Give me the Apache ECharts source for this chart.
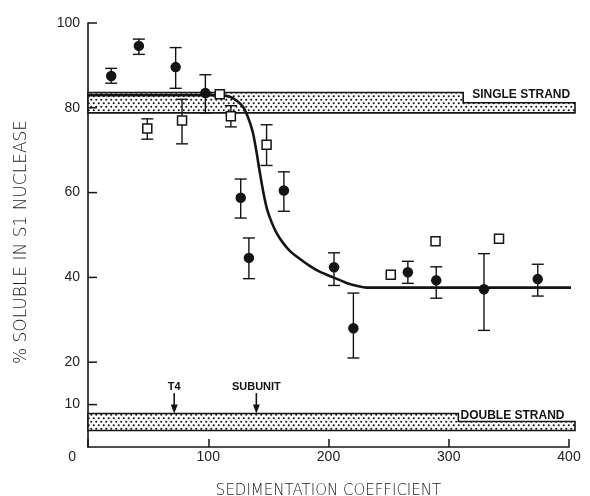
<!DOCTYPE html>
<html><head><meta charset="utf-8">
<script src="https://cdn.jsdelivr.net/npm/echarts@6/dist/echarts.min.js"></script>
<style>html,body{margin:0;padding:0;background:#fff}#c{width:590px;height:496px}</style>
</head><body><div id="c"></div>
<script>
// ---- data ----
const filledPoints = [[19.3,87.5],[42.3,94.6],[72.9,89.6],[97.6,83.5],[127,58.8],[133.8,44.6],[162.9,60.5],[204.6,42.4],[220.7,28.0],[266,41.2],[289.6,39.3],[329.3,37.2],[374,39.6]];
const filledErr = [[85.8,89.3],[92.6,96.2],[84.6,94.2],[78.8,87.8],[54.0,63.2],[39.7,49.3],[55.6,64.9],[38.1,45.8],[21.0,36.3],[38.6,43.8],[35.1,42.5],[27.5,45.6],[35.6,43.1]];
const squarePoints = [[49.3,75.1],[78.2,77.0],[109.6,83.2],[118.8,78.0],[148.5,71.3],[251.8,40.6],[289,48.5],[341.8,49.1]];
const squareErr = [[72.6,77.4],[71.5,82.0],null,[75.5,80.5],[66.4,76.0],null,null,null];
const fitCurve = [[0,83],[110,83],[118,82.6],[124,81.6],[129,80.2],[133,77.8],[137,74.3],[140,69.8],[143,64.6],[146,59.8],[149,56],[153,52.8],[157,50.4],[162,48.2],[168,46.2],[176,44.4],[185,42.6],[193,41.3],[204,40.0],[215,38.7],[225,37.9],[232,37.6],[300,37.6],[404,37.6]];
const singleStrandBand = [[0,83.6],[312,83.6],[312,81.2],[405,81.2],[405,78.8],[0,78.8]];
const doubleStrandBand = [[0,7.9],[308,7.9],[308,6.0],[405,6.0],[405,3.9],[0,3.9]];
const yTickValues = [0,10,20,40,60,80,100];
const bandLabels = [['SINGLE STRAND',319.5,83.2],['DOUBLE STRAND',309.8,7.5]];
const arrowMarks = [['T4',71.7],['SUBUNIT',140]];
const arrowSpan = [12.7,7.9];
const arrowLabelY = 14.2;

const INK = '#141414';
function makePattern(){
  const c = document.createElement('canvas'); c.width = 5; c.height = 7;
  const g = c.getContext('2d');
  g.fillStyle = '#fff'; g.fillRect(0,0,5,7);
  g.fillStyle = INK;
  g.beginPath(); g.arc(1.25,1.75,1.05,0,Math.PI*2); g.fill();
  g.beginPath(); g.arc(3.75,5.25,1.05,0,Math.PI*2); g.fill();
  return c;
}
const pattern = makePattern();

function bandSeries(pts){
  return {type:'custom', coordinateSystem:'cartesian2d', clip:false, z:1, silent:true,
    data:[[0,0]],
    renderItem(params, api){
      return {type:'polygon', shape:{points: pts.map(p=>api.coord(p))},
        style:{fill:{image:pattern, repeat:'repeat'}, stroke:INK, lineWidth:1.6}};
    }};
}
function errSeries(points, errs, z){
  const data = [];
  points.forEach((p,i)=>{ if(errs[i]) data.push([p[0], errs[i][0], errs[i][1]]); });
  return {type:'custom', coordinateSystem:'cartesian2d', clip:false, z:z, silent:true,
    data:data, encode:{x:0, y:[1,2]},
    renderItem(params, api){
      const lo = api.coord([api.value(0), api.value(1)]);
      const hi = api.coord([api.value(0), api.value(2)]);
      const w = 6;
      const st = {stroke:INK, lineWidth:1.4};
      return {type:'group', children:[
        {type:'line', shape:{x1:lo[0],y1:lo[1],x2:hi[0],y2:hi[1]}, style:st},
        {type:'line', shape:{x1:lo[0]-w,y1:lo[1],x2:lo[0]+w,y2:lo[1]}, style:st},
        {type:'line', shape:{x1:hi[0]-w,y1:hi[1],x2:hi[0]+w,y2:hi[1]}, style:st}
      ]};
    }};
}
const labelFont = '"Liberation Sans", Arial, sans-serif';
const nameFont = '"DejaVu Sans", sans-serif';

const option = {
  backgroundColor:'#fff',
  animation:false,
  grid:{left:88, right:21, top:23, bottom:49, containLabel:false, outerBoundsMode:'none'},
  xAxis:{type:'value', min:0, max:400, interval:100,
    name:'SEDIMENTATION COEFFICIENT', nameLocation:'middle', nameGap:37,
    nameTextStyle:{fontSize:15, fontWeight:300, color:'#222', fontFamily:nameFont},
    axisLine:{show:true, lineStyle:{color:INK, width:1.6}},
    axisTick:{show:true, inside:true, length:8, lineStyle:{color:INK, width:1.5}},
    axisLabel:{margin:3, fontSize:14, color:'#222', fontFamily:labelFont, formatter:v=> v===0?'':String(v)},
    splitLine:{show:false}},
  yAxis:{type:'value', min:0, max:100, interval:10,
    name:'% SOLUBLE IN S1 NUCLEASE', nameLocation:'middle', nameGap:58, nameRotate:90,
    nameTextStyle:{fontSize:17, fontWeight:300, color:'#222', fontFamily:nameFont, padding:[0,14,0,0]},
    axisLine:{show:true, lineStyle:{color:INK, width:1.6}},
    axisTick:{show:false},
    axisLabel:{margin:8, fontSize:14, color:'#222', fontFamily:labelFont,
      formatter:v=> yTickValues.indexOf(v)<0 ? '' : (v===0 ? '{z|0}' : String(v)),
      rich:{z:{padding:[20,4,0,0], fontSize:14, color:'#222', fontFamily:labelFont}}},
    splitLine:{show:false}},
  series:[
    bandSeries(singleStrandBand),
    bandSeries(doubleStrandBand),
    {type:'custom', coordinateSystem:'cartesian2d', clip:false, z:3, silent:true,
      data: yTickValues.filter(v=>v>0).map(v=>[0,v]),
      renderItem(params, api){
        const p = api.coord([0, api.value(1)]);
        return {type:'line', shape:{x1:p[0], y1:p[1], x2:p[0]+9, y2:p[1]}, style:{stroke:INK, lineWidth:1.5}};
      }},
    {type:'custom', coordinateSystem:'cartesian2d', clip:false, z:4, silent:true,
      data: bandLabels.map(b=>[b[1], b[2]]),
      renderItem(params, api){
        const p = api.coord([api.value(0), api.value(1)]);
        return {type:'text', x:p[0], y:p[1], style:{text: bandLabels[params.dataIndex][0], fill:INK,
          font:'bold 12px '+labelFont, align:'left', verticalAlign:'middle'}};
      }},
    {type:'custom', coordinateSystem:'cartesian2d', clip:false, z:4, silent:true,
      data: arrowMarks.map(a=>[a[1], arrowSpan[0]]),
      renderItem(params, api){
        const x = api.value(0);
        const top = api.coord([x, arrowSpan[0]]);
        const tip = api.coord([x, arrowSpan[1]]);
        const lab = api.coord([x, arrowLabelY]);
        return {type:'group', children:[
          {type:'line', shape:{x1:top[0],y1:top[1],x2:tip[0],y2:tip[1]-4}, style:{stroke:INK, lineWidth:1.6}},
          {type:'polygon', shape:{points:[[tip[0]-3.5,tip[1]-9],[tip[0]+3.5,tip[1]-9],[tip[0],tip[1]]]}, style:{fill:INK}},
          {type:'text', x:lab[0], y:lab[1], style:{text: arrowMarks[params.dataIndex][0], fill:INK,
            font:'bold 11px '+labelFont, align:'center', verticalAlign:'middle'}}
        ]};
      }},
    {type:'line', data:fitCurve, smooth:0.3, showSymbol:false, symbol:'none', clip:false, z:5,
      lineStyle:{color:INK, width:2.6}, silent:true},
    errSeries(filledPoints, filledErr, 6),
    errSeries(squarePoints, squareErr, 6),
    {type:'scatter', data:filledPoints, symbol:'circle', symbolSize:10.5, z:7, silent:true,
      itemStyle:{color:INK, opacity:1}},
    {type:'scatter', data:squarePoints, symbol:'rect', symbolSize:9, z:7, silent:true,
      itemStyle:{color:'#fff', borderColor:INK, borderWidth:1.5, opacity:1}}
  ]
};
const chart = echarts.init(document.getElementById('c'), null, {renderer:'canvas'});
chart.setOption(option);
</script></body></html>
